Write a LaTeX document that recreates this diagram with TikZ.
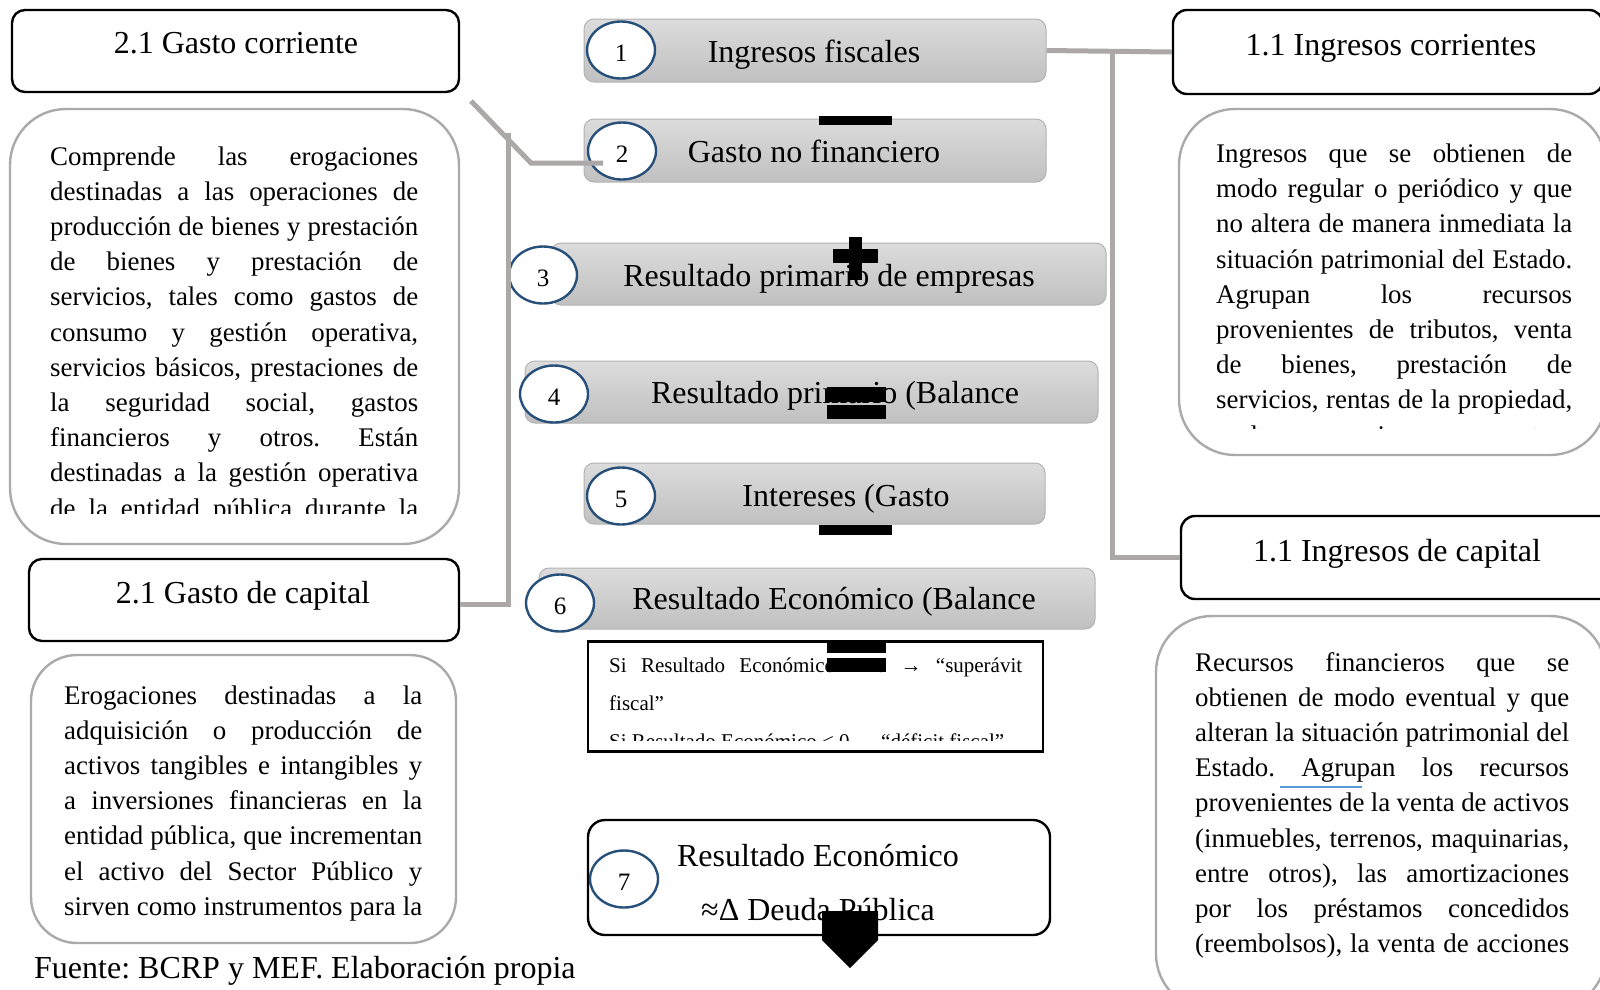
\documentclass[tikz,border=0pt]{standalone}
\usepackage{fontspec}
\setmainfont{Liberation Serif}
\usetikzlibrary{shapes.geometric}
\definecolor{conn}{RGB}{172,168,168}
\definecolor{cblue}{RGB}{38,79,122}
\definecolor{dgray}{RGB}{170,170,170}
\definecolor{btop}{RGB}{220,220,220}
\definecolor{bbot}{RGB}{192,192,192}
\definecolor{bline}{RGB}{178,178,178}
\definecolor{ublue}{RGB}{91,155,213}
\newcommand{\Jst}[1]{\makebox[\linewidth][s]{#1}\par}
\frenchspacing
\begin{document}
\begin{tikzpicture}[x=1pt,y=-1pt,
  gbox/.style={draw=bline, line width=1pt, rounded corners=10pt, top color=btop, bottom color=bbot, inner sep=0pt},
  tbox/.style={draw=black, line width=2.4pt, rounded corners=13pt, fill=white, inner sep=0pt},
  dbox/.style={draw=dgray, line width=2.4pt, fill=white, inner sep=0pt},
  num/.style={ellipse, draw=cblue, line width=2.4pt, fill=white, minimum width=68pt, minimum height=57pt, inner sep=0pt, font=\fontsize{25}{30}\selectfont, text height=23pt, text depth=0pt},
  big/.style={font=\fontsize{32}{38}\selectfont, inner sep=0pt, text height=22pt, text depth=7pt},
  desc/.style={inner sep=0pt, anchor=base west},
  link/.style={draw=conn, line width=5pt},
  blk/.style={fill=black}
]
\useasboundingbox (0,0) rectangle (1600,989);

% ---------- left side ----------
\node[tbox, minimum width=447pt, minimum height=82pt] (tl1) at (235.5,51) {};
\node[big] (tl1t) at (236,46) {2.1 Gasto corriente};
\node[dbox, rounded corners=56pt, minimum width=449pt, minimum height=435pt] (dl1) at (234.5,326.5) {};
\begin{scope}
\clip (15,112) rectangle (455,513);
\node[desc] (dl1t) at (50,165) {\parbox[t]{368pt}{\fontsize{26.9}{35.2}\selectfont
\Jst{Comprende las erogaciones}
\Jst{destinadas a las operaciones de}
\Jst{producción de bienes y prestación}
\Jst{de bienes y prestación de}
\Jst{servicios, tales como gastos de}
\Jst{consumo y gestión operativa,}
\Jst{servicios básicos, prestaciones de}
\Jst{la seguridad social, gastos}
\Jst{financieros y otros. Están}
\Jst{destinadas a la gestión operativa}
\Jst{de la entidad pública durante la}}};
\end{scope}

\node[tbox, minimum width=430pt, minimum height=82pt] (tl2) at (244,600) {};
\node[big] (tl2t) at (243,596) {2.1 Gasto de capital};
\node[dbox, rounded corners=46pt, minimum width=425pt, minimum height=288pt] (dl2) at (243.5,799) {};
\node[desc] (dl2t) at (64,704) {\parbox[t]{358pt}{\fontsize{26.9}{35.2}\selectfont
\Jst{Erogaciones destinadas a la}
\Jst{adquisición o producción de}
\Jst{activos tangibles e intangibles y}
\Jst{a inversiones financieras en la}
\Jst{entidad pública, que incrementan}
\Jst{el activo del Sector Público y}
\Jst{sirven como instrumentos para la}}};

\node[big, anchor=west] (src) at (34,970.5) {Fuente: BCRP y MEF. Elaboración propia};

% ---------- right side ----------
\node[tbox, rounded corners=14pt, minimum width=430pt, minimum height=84pt] (tr1) at (1388,52) {};
\node[big] (tr1t) at (1391,48) {1.1 Ingresos corrientes};
\node[dbox, rounded corners=56pt, minimum width=427pt, minimum height=346pt] (dr1) at (1392.5,282) {};
\begin{scope}
\clip (1185,112) rectangle (1598,428);
\node[desc] (dr1t) at (1216,162.5) {\parbox[t]{356pt}{\fontsize{26.9}{35.2}\selectfont
\Jst{Ingresos que se obtienen de}
\Jst{modo regular o periódico y que}
\Jst{no altera de manera inmediata la}
\Jst{situación patrimonial del Estado.}
\Jst{Agrupan los recursos}
\Jst{provenientes de tributos, venta}
\Jst{de bienes, prestación de}
\Jst{servicios, rentas de la propiedad,}
\Jst{multas, sanciones y otros}}};
\end{scope}

\node[tbox, rounded corners=14pt, minimum width=434pt, minimum height=83pt] (tr2) at (1398,557.5) {};
\node[big] (tr2t) at (1397,553.5) {1.1 Ingresos de capital};
\node[dbox, rounded corners=56pt, minimum width=450pt, minimum height=394pt] (dr2) at (1381,813) {};
\node[desc] (dr2t) at (1195,671) {\parbox[t]{374pt}{\fontsize{26.9}{35.2}\selectfont
\Jst{Recursos financieros que se}
\Jst{obtienen de modo eventual y que}
\Jst{alteran la situación patrimonial del}
\Jst{Estado. Agrupan los recursos}
\Jst{provenientes de la venta de activos}
\Jst{(inmuebles, terrenos, maquinarias,}
\Jst{entre otros), las amortizaciones}
\Jst{por los préstamos concedidos}
\Jst{(reembolsos), la venta de acciones}}};
\draw[ublue, line width=1.3pt] (1280,787) -- (1362,787);

% ---------- centre column ----------
\node[gbox, minimum width=462pt, minimum height=63pt] (b1) at (815,50.5) {};
\node[gbox, minimum width=462pt, minimum height=63pt] (b2) at (815,150.5) {};
\node[gbox, minimum width=555pt, minimum height=62pt] (b3) at (828.5,274) {};
\node[gbox, minimum width=573pt, minimum height=62pt] (b4) at (811.5,392) {};
\node[gbox, minimum width=461pt, minimum height=61pt] (b5) at (814.5,493.5) {};
\node[gbox, minimum width=556pt, minimum height=61pt] (b6) at (817,598.5) {};

\node[big] (b1t) at (814,54.5) {Ingresos fiscales};
\node[big] (b2t) at (814,155) {Gasto no financiero};
\node[big] (b3t) at (829,278.5) {Resultado primario de empresas};
\node[big] (b4t) at (835,395.5) {Resultado primario (Balance};
\node[big] (b5t) at (846,498.5) {Intereses (Gasto};
\node[big] (b6t) at (834,602) {Resultado Económico (Balance};

\node[num] (c1) at (621,50) {1};
\node[num] (c2) at (622,151) {2};
\node[num] (c3) at (543,275) {3};
\node[num] (c4) at (554,394) {4};
\node[num] (c5) at (621,496) {5};
\node[num] (c6) at (560,603) {6};

% box with conditions
\node[draw=black, line width=2.4pt, fill=white, inner sep=0pt, minimum width=455pt, minimum height=110pt] (si) at (815.5,696.5) {};
\begin{scope}
\clip (591,644) rectangle (1040,740);
\node[desc] (sit) at (609,672) {\parbox[t]{413pt}{\fontsize{21}{38}\selectfont
\Jst{Si Resultado Económico > 0 → “superávit}
fiscal”\par
Si Resultado Económico < 0 → “déficit fiscal”\par}};
\end{scope}

% final box
\node[tbox, rounded corners=17pt, minimum width=462pt, minimum height=115pt] (b7) at (819,877.5) {};
\node[big] (b7a) at (818,858.5) {Resultado Económico};
\node[big] (b7b) at (818,913) {≈Δ Deuda Pública};
\node[num] (c7) at (624,879) {7};

% ---------- connectors ----------
\coordinate (jR1) at (1112,51.3);
\coordinate (jR2) at (1112,557.5);
\draw[link] (b1.east) -- (tr1.west);
\draw[link] (jR1) -- (jR2) -- (jR2 -| tr2.west);

\coordinate (jL0) at (471,101);
\coordinate (jL1) at (531,163);
\coordinate (jL2) at (603,163);
\coordinate (jL3) at (508,133);
\coordinate (jL4) at (508,604);
\draw[link] (jL0) -- (jL1) -- (jL2);
\draw[link] (jL3) -- (jL4) -- (jL4 -| tl2.east);

% ---------- operators ----------
\fill[blk] (819,116) rectangle (892,125);
\fill[blk] (833,249) rectangle (878,263);
\fill[blk] (849,237) rectangle (862,280);
\fill[blk] (827,387) rectangle (886,402);
\fill[blk] (827,405) rectangle (886,419);
\fill[blk] (819,525) rectangle (892,535);
\fill[blk] (827,640) rectangle (886,653);
\fill[blk] (827,658) rectangle (886,672);
\fill[blk] (822,911) -- (878,911) -- (878,940) -- (850,968) -- (822,940) -- cycle;
\end{tikzpicture}
\end{document}
